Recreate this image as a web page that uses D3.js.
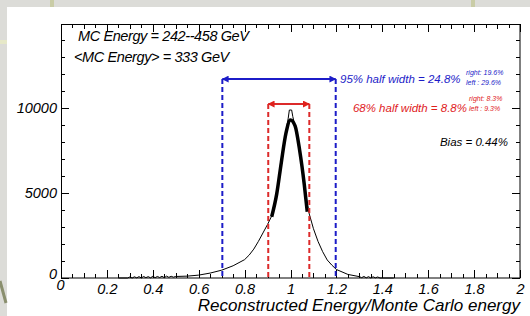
<!DOCTYPE html>
<html>
<head>
<meta charset="utf-8">
<script src="https://cdn.jsdelivr.net/npm/d3@7"></script>
<style>
  body { margin: 0; background: #dcdcd8; }
  svg { display: block; }
  text { font-family: "Liberation Sans", Arial, sans-serif; font-style: italic; }
</style>
</head>
<body>
<svg id="chart" width="530" height="316"></svg>
<script>
// reconstructed / MC energy ratio histogram
const histX = [0.25, 0.29, 0.30, 0.31, 0.32, 0.33, 0.34, 0.35, 0.36, 0.37, 0.38, 0.39, 0.40, 0.41, 0.42, 0.43, 0.44, 0.45, 0.46, 0.47, 0.48, 0.49, 0.50,
  0.55, 0.60, 0.65, 0.70, 0.75, 0.80, 0.82, 0.84, 0.86, 0.88, 0.90, 0.92, 0.94, 0.96, 0.98, 0.99, 0.995, 1.005, 1.01, 1.02, 1.04, 1.06, 1.08,
  1.10, 1.12, 1.14, 1.16, 1.18, 1.20, 1.25, 1.30, 1.31, 1.32, 1.33, 1.34, 1.35, 1.36, 1.37, 1.38, 1.39, 1.45];
const histY = [0, 0, 60, 0, 70, 10, 80, 0, 90, 20, 80, 10, 100, 20, 90, 30, 100, 20, 110, 40, 100, 50, 90,
  110, 170, 290, 460, 720, 1080, 1350, 1700, 2150, 2650, 3150, 3700, 4950, 6800, 8600, 9400, 9880, 9880, 9500, 8900, 7400, 5400, 3850,
  2900, 2150, 1550, 1060, 760, 500, 210, 80, 20, 90, 10, 80, 0, 70, 10, 60, 0, 0];

// fitted core (thick line)
const fitX = [0.918, 0.94, 0.96, 0.98, 1.0, 1.02, 1.04, 1.06, 1.073];
const fitY = [3600, 4950, 6800, 8500, 9300, 8950, 7500, 5500, 3900];

// 95% and 68% intervals: [left, right, arrow height]
const int95 = [0.703, 1.197, 11700];
const int68 = [0.903, 1.082, 10230];

const xMajor = [0, 0.2, 0.4, 0.6, 0.8, 1, 1.2, 1.4, 1.6, 1.8, 2];
const yMajor = [0, 5000, 10000];

const svg = d3.select("#chart");
const W = 530, H = 316;

// background panel
svg.append("rect").attr("width", W).attr("height", H).attr("fill", "#dcdcd8");
svg.append("rect").attr("x", 50).attr("y", 0).attr("width", 4).attr("height", 7).attr("fill", "#c9cca6");
svg.append("rect").attr("x", 471).attr("y", 0).attr("width", 4).attr("height", 7).attr("fill", "#c9cca6");
svg.append("rect").attr("x", 0).attr("y", 40).attr("width", 12).attr("height", 4).attr("fill", "#e6e8c8");
svg.append("rect").attr("x", 7).attr("y", 7).attr("width", W - 7).attr("height", H - 7).attr("fill", "#fff");
svg.append("path").attr("d", "M0,281 L6,303").attr("stroke", "#8a8f6e").attr("stroke-width", 3).attr("fill", "none");

const x = d3.scaleLinear().domain([0, 2]).range([61, 520]);
const y = d3.scaleLinear().domain([0, 14940]).range([278, 24]);

// minor ticks on all four sides
const g = svg.append("g").attr("stroke", "#000").attr("stroke-width", 1);
x.ticks(40).forEach(v => {
  const major = xMajor.some(m => Math.abs(m - v) < 1e-6);
  const len = major ? 8 : (Math.abs(v * 10 - Math.round(v * 10)) < 1e-6 ? 5 : 4);
  const px = Math.round(x(v)) + 0.5;
  g.append("line").attr("x1", px).attr("x2", px).attr("y1", 278).attr("y2", 278 - len);
  g.append("line").attr("x1", px).attr("x2", px).attr("y1", 24).attr("y2", 24 + len);
});
d3.range(0, 15000, 1000).forEach(v => {
  const len = v % 5000 === 0 ? 8 : 4;
  const py = Math.round(y(v)) + 0.5;
  g.append("line").attr("x1", 61).attr("x2", 61 + len).attr("y1", py).attr("y2", py);
  g.append("line").attr("x1", 520).attr("x2", 520 - len).attr("y1", py).attr("y2", py);
});

// axis labels through d3 axes (no tick lines, only text)
const xAxis = d3.axisBottom(x).tickValues(xMajor).tickSize(0).tickPadding(4).tickFormat(d => String(+d.toFixed(1)));
const gx = svg.append("g").attr("transform", "translate(0,278)").call(xAxis);
gx.select(".domain").remove();
gx.selectAll("text").attr("font-size", 14.5).attr("font-family", null).attr("fill", "#000").attr("dy", "0.8em");
gx.selectAll("text").filter(d => d === 0).attr("dx", -1).attr("dy", "0.55em");

const yAxis = d3.axisLeft(y).tickValues(yMajor).tickSize(0).tickPadding(4).tickFormat(d3.format("d"));
const gy = svg.append("g").attr("transform", "translate(61,0)").call(yAxis);
gy.select(".domain").remove();
gy.selectAll("text").attr("font-size", 14.5).attr("font-family", null).attr("fill", "#000");
gy.selectAll("text").filter(d => d === 0).attr("dy", "-0.05em").attr("x", -4).attr("dy", "0.05em");

svg.append("text").attr("x", 520).attr("y", 311).attr("text-anchor", "end")
  .attr("font-size", 17).text("Reconstructed Energy/Monte Carlo energy");

// histogram
const line = d3.line().x(d => x(d[0])).y(d => y(d[1]));
svg.append("path").datum(histX.map((v, i) => [v, histY[i]]))
  .attr("d", line).attr("fill", "none").attr("stroke", "#000").attr("stroke-width", 1);
svg.append("path").datum(fitX.map((v, i) => [v, fitY[i]]))
  .attr("d", line.curve(d3.curveMonotoneX)).attr("fill", "none").attr("stroke", "#000").attr("stroke-width", 3.5);

// interval lines
const defs = svg.append("defs");
[["b", "#1c1cc8"], ["r", "#e0201c"]].forEach(([id, c]) => {
  defs.append("marker").attr("id", "arr" + id).attr("viewBox", "0 0 10 10").attr("refX", 9).attr("refY", 5)
    .attr("markerWidth", 7).attr("markerHeight", 7).attr("markerUnits", "userSpaceOnUse").attr("orient", "auto-start-reverse")
    .append("path").attr("d", "M0,0 L10,5 L0,10 Z").attr("fill", c);
});

function interval(iv, color, id) {
  [iv[0], iv[1]].forEach(v => {
    svg.append("line").attr("x1", x(v)).attr("x2", x(v)).attr("y1", y(iv[2])).attr("y2", 278)
      .attr("stroke", color).attr("stroke-width", 2).attr("stroke-dasharray", "5,3");
  });
  svg.append("line").attr("x1", x(iv[0])).attr("x2", x(iv[1])).attr("y1", y(iv[2])).attr("y2", y(iv[2]))
    .attr("stroke", color).attr("stroke-width", 2)
    .attr("marker-start", `url(#arr${id})`).attr("marker-end", `url(#arr${id})`);
}
interval(int95, "#1c1cc8", "b");
interval(int68, "#dc2a2a", "r");

// annotations
svg.append("text").attr("x", 78).attr("y", 41).attr("font-size", 14.5).attr("letter-spacing", -0.4).text("MC Energy = 242--458 GeV");
svg.append("text").attr("x", 74).attr("y", 62).attr("font-size", 14.5).attr("letter-spacing", -0.4).text("<MC Energy> = 333 GeV");

svg.append("text").attr("x", 340).attr("y", 83).attr("font-size", 11.5).attr("fill", "#1c1cc8").text("95% half width = 24.8%");
svg.append("text").attr("x", 466).attr("y", 75).attr("font-size", 7).attr("fill", "#1c1cc8").text("right: 19.6%");
svg.append("text").attr("x", 466).attr("y", 85).attr("font-size", 7).attr("fill", "#1c1cc8").text("left : 29.6%");

svg.append("text").attr("x", 467).attr("y", 112).attr("text-anchor", "end").attr("font-size", 11.5).attr("fill", "#e0201c").text("68% half width = 8.8%");
svg.append("text").attr("x", 469).attr("y", 101).attr("font-size", 7).attr("fill", "#e0201c").text("right: 8.3%");
svg.append("text").attr("x", 469).attr("y", 111).attr("font-size", 7).attr("fill", "#e0201c").text("left : 9.3%");

svg.append("text").attr("x", 508).attr("y", 146).attr("text-anchor", "end").attr("font-size", 11.5).text("Bias = 0.44%");

// frame
svg.append("rect").attr("x", 61.5).attr("y", 24.5).attr("width", 458.5).attr("height", 253.5)
  .attr("fill", "none").attr("stroke", "#000").attr("stroke-width", 1);
</script>
</body>
</html>
